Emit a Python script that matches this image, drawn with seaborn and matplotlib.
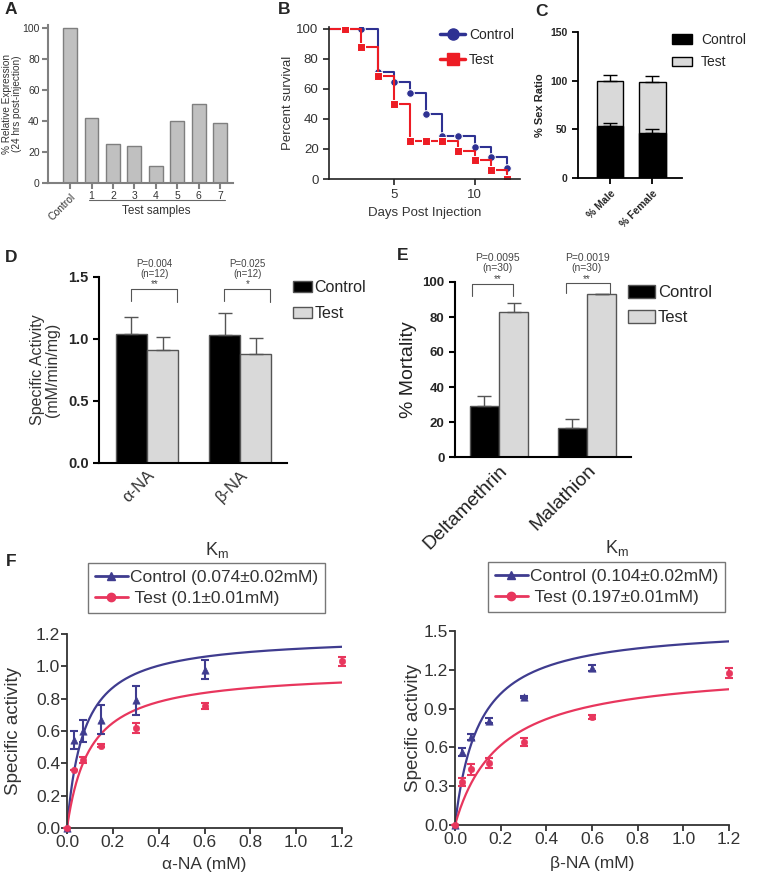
import numpy as np
import pandas as pd
import matplotlib
matplotlib.use("Agg")
import matplotlib.pyplot as plt
import matplotlib.transforms as mtransforms
from matplotlib.lines import Line2D
from matplotlib.patches import Patch
import seaborn as sns

# ---- data ----
# A: relative expression
a_labels = ["Control", "1", "2", "3", "4", "5", "6", "7"]
a_values = [100, 42, 25, 24, 11, 40, 51, 39]

# B: survival
b_days = [1, 2, 3, 4, 5, 6, 7, 8, 9, 10, 11, 12]
b_control = [100, 100, 100, 71.4, 64.3, 57.1, 42.9, 28.6, 28.6, 21.4, 14.3, 7.1]
b_test = [100, 100, 87.5, 68.75, 50, 25, 25, 25, 18.75, 12.5, 6.25, 0]

# C: sex ratio
c_groups = ["% Male", "% Female"]
c_control = [53, 46]
c_test = [47, 53]
c_control_err = [4, 4]
c_total_err = [6, 6]

# D: specific activity
d_substrates = ["α-NA", "β-NA"]
d_control = [1.04, 1.03]
d_test = [0.91, 0.88]
d_control_err = [0.14, 0.18]
d_test_err = [0.11, 0.13]
d_pvals = ["P=0.004\n(n=12)", "P=0.025\n(n=12)"]
d_stars = ["**", "*"]

# E: mortality
e_insecticides = ["Deltamethrin", "Malathion"]
e_control = [29, 16.5]
e_test = [83, 93]
e_control_err = [6, 5]
e_test_err = [5, 0]
e_pvals = ["P=0.0095\n(n=30)", "P=0.0019\n(n=30)"]
e_stars = ["**", "**"]

# F: kinetics
f_conc_ctrl = [0, 0.03, 0.07, 0.15, 0.3, 0.6]
f_conc_test = [0, 0.03, 0.07, 0.15, 0.3, 0.6, 1.2]
fa_control = [0, 0.545, 0.60, 0.67, 0.79, 0.98]
fa_control_err = [0, 0.055, 0.07, 0.09, 0.09, 0.06]
fa_test = [0, 0.356, 0.42, 0.51, 0.62, 0.755, 1.03]
fa_test_err = [0, 0.0, 0.02, 0.01, 0.03, 0.02, 0.03]
fb_control = [0, 0.566, 0.68, 0.805, 0.99, 1.214]
fb_control_err = [0, 0.03, 0.02, 0.02, 0.01, 0.02]
fb_test = [0, 0.334, 0.43, 0.48, 0.64, 0.836, 1.176]
fb_test_err = [0, 0.03, 0.04, 0.04, 0.03, 0.015, 0.04]
fa_km = [0.074, 0.1]
fa_vmax = [1.19, 0.975]
fb_km = [0.104, 0.197]
fb_vmax = [1.543, 1.222]
fa_legend = ["Control (0.074±0.02mM)", " Test (0.1±0.01mM)"]
fb_legend = ["Control (0.104±0.02mM)", " Test (0.197±0.01mM)"]

sns.set_theme(style="ticks")
plt.rcParams["font.family"] = ["Liberation Sans", "DejaVu Sans"]
plt.rcParams["axes.facecolor"] = "white"

W, H = 777, 872
fig = plt.figure(figsize=(W / 100, H / 100), dpi=100)


def box(l, t, r, b):
    return [l / W, 1 - b / H, (r - l) / W, (b - t) / H]


def fx(px):
    return px / W


def fy(py):
    return 1 - py / H


def clean(ax, color="black", lw=1.2):
    for s in ["top", "right"]:
        ax.spines[s].set_visible(False)
    for s in ["left", "bottom"]:
        ax.spines[s].set_color(color)
        ax.spines[s].set_linewidth(lw)
    ax.tick_params(color=color, width=lw, length=4)


def plain_legend(handles, labels, left, top, size, hlen, hpad, lspace, hheight=0.7):
    return fig.legend(handles, labels, loc="upper left", frameon=False,
                      bbox_to_anchor=(fx(left), fy(top)), fontsize=size,
                      handlelength=hlen, handleheight=hheight, handletextpad=hpad,
                      labelspacing=lspace, borderpad=0, borderaxespad=0)


BLUE = "#2e3192"
RED = "#ed1c24"
GREY = "#d9d9d9"

# ---- A ----
axA = fig.add_axes(box(48, 25, 233, 183))
sns.barplot(x=a_labels, y=a_values, color="#c0c0c0", edgecolor="#7f7f7f",
            linewidth=1, width=0.65, saturation=1, ax=axA)
axA.set_ylim(0, 102)
axA.set_xlim(-1.03, 7.6)
axA.set_yticks([0, 20, 40, 60, 80, 100])
clean(axA, "#808080", 1.5)
axA.tick_params(labelsize=7.5, labelcolor="#333", pad=2)
for lbl in axA.get_xticklabels():
    if lbl.get_text() == "Control":
        lbl.set_rotation(45)
        lbl.set_ha("right")
        lbl.set_va("top")
        lbl.set_rotation_mode("anchor")
axA.set_ylabel("% Relative Expression\n(24 hrs post-injection)", fontsize=7.2,
               color="#333", linespacing=1.0)
axA.yaxis.set_label_coords(-0.14, 0.5)
trA = mtransforms.blended_transform_factory(axA.transData, axA.transAxes)
axA.plot([0.88, 7.24], [-0.108, -0.108], transform=trA, clip_on=False,
         color="#666", lw=0.8)
axA.text(4, -0.18, "Test samples", transform=trA, ha="center", va="center",
         fontsize=8.5, color="#333")

# ---- B ----
axB = fig.add_axes(box(329, 27, 520, 179))
sns.lineplot(x=b_days, y=b_control, drawstyle="steps-post", color=BLUE, lw=1.5,
             marker="o", ms=5.5, markevery=list(range(1, 12)), ax=axB)
sns.lineplot(x=b_days, y=b_test, drawstyle="steps-post", color=RED, lw=1.5,
             marker="s", ms=5.5, markevery=list(range(1, 12)), ax=axB)
axB.set_xlim(1, 12.8)
axB.set_ylim(0, 101)
axB.set_xticks([5, 10])
axB.set_yticks([0, 20, 40, 60, 80, 100])
clean(axB, "#222", 1.2)
axB.tick_params(labelsize=9.5, labelcolor="#333")
axB.set_xlabel("Days Post Injection", fontsize=9.5, color="#333", labelpad=4)
axB.set_ylabel("Percent survival", fontsize=9.5, color="#333", labelpad=2)
hB = [Line2D([], [], color=BLUE, lw=2.5, marker="o", ms=8),
      Line2D([], [], color=RED, lw=2.5, marker="s", ms=8)]
plain_legend(hB, ["Control", "Test"], 440, 28, 10, 1.8, 0.3, 0.8)

# ---- C ----
axC = fig.add_axes(box(578, 32, 682, 178))
c_total = [c + t for c, t in zip(c_control, c_test)]
sns.barplot(x=c_groups, y=c_total, color=GREY, edgecolor="black", linewidth=1,
            width=0.64, saturation=1, ax=axC)
sns.barplot(x=c_groups, y=c_control, color="black", edgecolor="black",
            linewidth=1, width=0.64, saturation=1, ax=axC)
axC.errorbar([0, 1], c_total, yerr=[[0, 0], c_total_err], fmt="none",
             ecolor="black", elinewidth=1, capsize=5, capthick=1)
axC.errorbar([0, 1], c_control, yerr=[[0, 0], c_control_err], fmt="none",
             ecolor="black", elinewidth=1, capsize=5, capthick=1)
axC.set_xlim(-0.76, 1.71)
axC.set_ylim(0, 150)
axC.set_yticks([0, 50, 100, 150])
clean(axC, "black", 1.3)
axC.tick_params(labelsize=7.5)
for lbl in axC.get_yticklabels():
    lbl.set_fontweight("bold")
for lbl in axC.get_xticklabels():
    lbl.set_fontweight("bold")
    lbl.set_rotation(45)
    lbl.set_ha("right")
    lbl.set_va("top")
    lbl.set_rotation_mode("anchor")
axC.set_ylabel("% Sex Ratio", fontsize=8, fontweight="bold", labelpad=4)
hC = [Patch(facecolor="black", edgecolor="black"),
      Patch(facecolor=GREY, edgecolor="black")]
plain_legend(hC, ["Control", "Test"], 672, 33, 10, 1.45, 0.65, 0.6)


# ---- D and E grouped bars ----
def grouped(ax, cats, ctrl, test, ctrl_err, test_err, width):
    df = pd.DataFrame({"cat": cats * 2, "group": ["Control"] * 2 + ["Test"] * 2,
                       "value": ctrl + test})
    sns.barplot(data=df, x="cat", y="value", hue="group",
                palette={"Control": "black", "Test": GREY}, width=width,
                edgecolor="#555", linewidth=1, saturation=1, errorbar=None,
                legend=False, ax=ax)
    off = width / 4
    xs = np.arange(len(cats))
    ax.errorbar(xs - off, ctrl, yerr=[[0] * len(cats), ctrl_err], fmt="none",
                ecolor="#555", elinewidth=1, capsize=5, capthick=1)
    ax.errorbar(xs + off, test, yerr=[[0] * len(cats), test_err], fmt="none",
                ecolor="#555", elinewidth=1, capsize=5, capthick=1)
    ax.set_xlabel("")


def bracket(ax, x0, x1, y0, ytop, y1):
    ax.plot([x0, x0, x1, x1], [y0, ytop, ytop, y1], color="#555", lw=0.8,
            clip_on=False)


axD = fig.add_axes(box(99, 277, 287, 463))
grouped(axD, d_substrates, d_control, d_test, d_control_err, d_test_err, 0.667)
axD.set_xlim(-0.516, 1.505)
axD.set_ylim(0, 1.5)
axD.set_yticks([0, 0.5, 1.0, 1.5])
axD.set_yticklabels(["0.0", "0.5", "1.0", "1.5"])
clean(axD, "black", 1.5)
axD.tick_params(axis="y", labelsize=10.5)
axD.tick_params(axis="x", length=0, labelsize=12, labelcolor="#333")
for lbl in axD.get_yticklabels():
    lbl.set_fontweight("bold")
for lbl in axD.get_xticklabels():
    lbl.set_rotation(45)
    lbl.set_ha("right")
    lbl.set_va("top")
    lbl.set_rotation_mode("anchor")
axD.set_ylabel("Specific Activity\n(mM/min/mg)", fontsize=11.5, color="#333",
               labelpad=6, linespacing=1.0)
for i in range(2):
    bracket(axD, i - 0.17, i + 0.32, 1.31, 1.40, 1.30)
    axD.text(i + 0.08, 1.565, d_pvals[i], ha="center", va="center", fontsize=7,
             color="#444", linespacing=1.0)
    axD.text(i + 0.08, 1.44, d_stars[i], ha="center", va="center", fontsize=7,
             color="#444")
hD = [Patch(facecolor="black", edgecolor="#555"),
      Patch(facecolor=GREY, edgecolor="#555")]
plain_legend(hD, ["Control", "Test"], 293, 280, 11.5, 1.2, 0.15, 0.7)

axE = fig.add_axes(box(455, 282, 631, 457))
grouped(axE, e_insecticides, e_control, e_test, e_control_err, e_test_err, 0.66)
axE.set_xlim(-0.5, 1.5)
axE.set_ylim(0, 100)
axE.set_yticks([0, 20, 40, 60, 80, 100])
clean(axE, "black", 1.5)
axE.tick_params(axis="y", labelsize=9.5)
axE.tick_params(axis="x", length=0, labelsize=14, labelcolor="#222")
for lbl in axE.get_yticklabels():
    lbl.set_fontweight("bold")
for lbl in axE.get_xticklabels():
    lbl.set_rotation(45)
    lbl.set_ha("right")
    lbl.set_va("top")
    lbl.set_rotation_mode("anchor")
axE.set_ylabel("% Mortality", fontsize=14, color="#222", labelpad=4)
bracket(axE, -0.31, 0.16, 92, 99, 92)
bracket(axE, 0.76, 1.26, 93.5, 99.5, 93)
for i, xc in enumerate([-0.02, 1.0]):
    axE.text(xc, 111, e_pvals[i], ha="center", va="center", fontsize=7.5,
             color="#444", linespacing=1.0)
    axE.text(xc, 101.5, e_stars[i], ha="center", va="center", fontsize=7,
             color="#444")
hE = [Patch(facecolor="black", edgecolor="#555"),
      Patch(facecolor=GREY, edgecolor="#555")]
plain_legend(hE, ["Control", "Test"], 628, 285, 12, 1.6, 0.2, 0.55, 0.85)

# ---- F kinetics ----
FBLUE = "#3f3c8f"
FRED = "#e8365d"
grid = np.linspace(0, 1.2, 300)


def kinetics(ax, ctrl, ctrl_err, test, test_err, km, vmax, ymax, ystep,
             xlabel, lx, ly):
    sns.lineplot(x=grid, y=vmax[0] * grid / (km[0] + grid), color=FBLUE, lw=1.6,
                 ax=ax)
    sns.lineplot(x=grid, y=vmax[1] * grid / (km[1] + grid), color=FRED, lw=1.6,
                 ax=ax)
    ax.errorbar(f_conc_ctrl, ctrl, yerr=ctrl_err, fmt="none", ecolor=FBLUE,
                elinewidth=1.5, capsize=3, capthick=1.5, clip_on=False)
    ax.errorbar(f_conc_test, test, yerr=test_err, fmt="none", ecolor=FRED,
                elinewidth=1.5, capsize=3, capthick=1.5, clip_on=False)
    sns.scatterplot(x=f_conc_ctrl, y=ctrl, color=FBLUE, marker="^", s=28,
                    edgecolor=FBLUE, ax=ax, clip_on=False, zorder=4)
    sns.scatterplot(x=f_conc_test, y=test, color=FRED, marker="o", s=22,
                    edgecolor=FRED, ax=ax, clip_on=False, zorder=4)
    ax.set_xlim(0, 1.2)
    ax.set_ylim(0, ymax)
    ax.set_xticks(np.round(np.arange(0, 1.21, 0.2), 1))
    ax.set_yticks(np.round(np.arange(0, ymax + 0.01, ystep), 1))
    ax.xaxis.set_major_formatter(matplotlib.ticker.FormatStrFormatter("%.1f"))
    ax.yaxis.set_major_formatter(matplotlib.ticker.FormatStrFormatter("%.1f"))
    clean(ax, "#333", 1.3)
    ax.tick_params(labelsize=12.5, labelcolor="#333", length=4, pad=1)
    ax.set_xlabel(xlabel, fontsize=12.5, color="#333")
    ax.set_ylabel("Specific activity", fontsize=13.5, color="#333")
    ax.yaxis.set_label_coords(lx, 0.5)
    ax.xaxis.set_label_coords(0.5, ly)
    h = [Line2D([], [], color=FBLUE, lw=2, marker="^", ms=6),
         Line2D([], [], color=FRED, lw=2, marker="o", ms=6)]
    return h


axF1 = fig.add_axes(box(67, 634, 342, 828))
hF1 = kinetics(axF1, fa_control, fa_control_err, fa_test, fa_test_err, fa_km,
               fa_vmax, 1.2, 0.2, "α-NA (mM)", -0.165, -0.15)
axF2 = fig.add_axes(box(455, 631, 729, 825))
hF2 = kinetics(axF2, fb_control, fb_control_err, fb_test, fb_test_err, fb_km,
               fb_vmax, 1.5, 0.3, "β-NA (mM)", -0.12, -0.16)

for h, labels, left, top in [(hF1, fa_legend, 88, 563), (hF2, fb_legend, 488, 562)]:
    leg = fig.legend(h, labels, loc="upper left", bbox_to_anchor=(fx(left), fy(top)),
                     fontsize=12.5, frameon=True, fancybox=False, edgecolor="#777",
                     framealpha=1, handlelength=1.9, handletextpad=0.1,
                     borderpad=0.4, labelspacing=0.35, borderaxespad=0)
    leg.get_frame().set_linewidth(1.0)
    for t in leg.get_texts():
        t.set_color("#333")

fig.text(fx(217), fy(550), "K$_\\mathregular{m}$", ha="center", va="center",
         fontsize=13, color="#333")
fig.text(fx(617), fy(548), "K$_\\mathregular{m}$", ha="center", va="center",
         fontsize=13, color="#333")

# ---- panel letters ----
for letter, x, y in [("A", 5, 10), ("B", 278, 9), ("C", 535, 11), ("D", 5, 257),
                     ("E", 397, 255), ("F", 6, 561)]:
    fig.text(fx(x), fy(y), letter, fontsize=12.5, fontweight="bold", va="center",
             ha="left")

fig.savefig("out.png", dpi=100)
